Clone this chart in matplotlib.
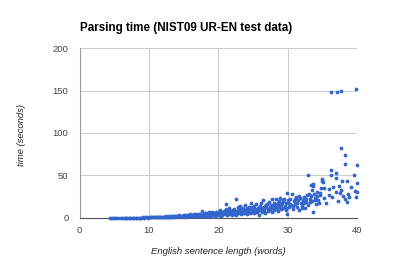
import matplotlib
matplotlib.use("Agg")
import matplotlib.pyplot as plt

title = "Parsing time (NIST09 UR-EN test data)"
x_label = "English sentence length (words)"
y_label = "time (seconds)"
x_ticks = [0, 10, 20, 30, 40]
y_ticks = [0, 50, 100, 150, 200]

# sentence length (words)
length = [
    4.4,4.7,5.0,5.3,5.6,6.0,6.2,6.5,6.7,6.9,7.1,7.3,7.5,7.7,7.9,8.1,8.3,8.5,8.7,8.9,9.1,9.3,9.5,9.7,9.9,10.1,10.3,10.5,10.7,10.9,
    11.0,11.2,11.3,11.5,11.6,11.8,12.0,12.1,12.3,12.4,12.6,12.8,12.9,13.1,13.2,13.4,13.5,13.7,13.8,14.0,14.1,14.3,14.4,14.6,14.7,14.9,15.0,15.1,15.3,15.4,15.6,15.7,15.8,16.0,16.1,16.2,16.4,16.5,16.6,16.8,16.9,
    12.2,13.0,13.6,14.2,14.8,15.2,15.5,15.9,16.3,16.7,16.95,
    17.0,17.1,17.2,17.3,17.4,17.5,17.6,17.7,17.8,17.9,18.0,18.1,18.2,18.3,18.4,18.5,18.6,18.7,18.8,18.9,19.0,19.1,19.2,19.3,19.4,19.5,19.6,19.7,19.8,19.9,20.0,20.1,20.2,20.3,20.4,20.5,20.6,20.7,20.8,20.9,21.1,21.0,21.2,21.3,22.6,21.5,21.6,21.7,21.8,21.9,
    17.15,17.55,17.95,18.35,18.75,19.15,19.55,19.95,20.35,20.75,21.15,21.55,21.95,
    22.0,22.1,22.2,22.3,22.4,22.5,21.4,22.7,22.8,22.9,23.0,23.1,23.2,23.3,23.4,23.5,23.6,23.7,23.8,23.9,24.0,24.1,24.2,24.3,24.4,24.5,24.6,24.7,24.8,24.9,25.0,25.1,25.2,25.3,25.4,25.5,25.6,25.7,25.8,25.9,26.0,26.1,26.2,26.3,26.4,26.5,26.6,26.7,26.8,26.9,27.0,27.1,27.2,27.3,27.4,27.5,27.6,27.7,27.8,27.9,28.0,28.1,28.2,28.3,28.4,28.5,28.6,28.7,28.8,28.9,29.0,29.1,29.2,29.3,29.4,29.5,29.6,29.7,29.8,29.9,
    22.15,22.55,22.95,23.35,23.75,24.15,24.55,24.95,25.35,25.75,26.15,26.55,26.95,27.35,27.75,28.15,28.55,28.95,29.35,29.75,29.95,
    30.0,30.2,30.3,30.5,30.6,30.8,30.9,31.0,31.2,31.3,31.5,31.6,31.8,31.9,32.0,32.2,32.3,32.5,32.6,32.8,32.9,33.0,33.2,33.2,33.3,33.4,33.5,33.5,33.6,33.7,33.8,34.0,34.1,34.3,34.4,34.5,34.6,34.8,34.9,
    30.1,30.4,30.7,31.1,31.4,31.7,32.1,32.4,32.7,33.1,33.6,33.9,34.2,34.7,
    35.0,35.1,35.2,35.3,35.6,35.9,36.0,36.2,36.2,36.4,36.5,36.9,36.9,37.0,37.2,37.4,37.5,37.7,37.7,37.8,38.0,38.2,38.3,38.3,38.5,38.6,38.7,38.9,39.2,39.5,39.7,39.8,40.0,40.0,40.0,
    36.2,37.1,37.7,39.8,
]

# parsing time (seconds)
seconds = [
    0.1,0.1,0.1,0.1,0.2,0.1,0.2,0.2,0.1,0.2,0.2,0.3,0.2,0.3,0.2,0.3,0.4,0.3,0.4,0.3,0.5,0.4,0.5,0.6,0.4,0.6,0.7,0.5,0.8,0.6,
    0.8,1.0,0.6,1.2,0.9,1.4,1.0,1.6,1.1,2.0,1.3,1.5,2.2,1.2,1.8,2.5,1.4,2.0,2.8,1.6,2.3,1.9,3.0,2.1,1.5,2.6,3.2,1.8,2.4,3.5,2.0,2.9,1.7,3.8,2.5,3.1,2.2,4.0,2.8,3.4,2.0,
    0.9,1.6,1.1,2.6,2.0,1.4,2.6,4.5,1.8,5.0,3.6,
    2.5,4.0,1.8,3.2,5.0,2.8,8.6,3.6,2.2,4.5,3.0,5.5,2.5,6.0,3.8,2.0,4.8,6.5,3.2,5.2,2.8,7.0,4.2,3.5,6.2,2.5,5.0,7.5,3.8,4.5,6.8,3.0,9.0,5.5,4.0,7.2,3.5,6.0,8.5,4.8,16.5,5.5,7.0,3.8,22.0,9.5,4.5,6.5,8.0,5.0,
    3.0,2.0,3.5,4.6,2.6,5.8,3.8,5.2,2.0,5.5,10.5,12.0,3.2,
    6.0,9.5,4.5,11.0,7.5,3.8,8.0,8.0,12.5,5.5,9.0,6.5,14.0,4.2,10.5,7.8,12.0,5.8,9.2,15.5,7.0,11.5,4.8,8.5,13.0,6.2,10.0,17.5,7.5,12.5,9.0,5.5,14.5,11.0,8.0,16.0,6.8,12.0,9.5,3.5,13.5,10.5,18.0,7.5,11.8,20.5,9.0,14.0,6.0,12.5,16.5,10.0,8.2,19.0,13.0,11.0,15.0,7.5,22.5,12.0,17.0,9.5,14.5,22.0,11.5,16.0,8.5,19.5,13.0,24.0,10.5,15.5,18.0,12.0,21.0,22.0,14.0,17.5,9.0,29.0,
    8.0,5.0,10.5,7.0,6.0,9.5,12.0,8.5,6.8,10.8,8.8,12.8,15.2,9.2,13.5,11.0,17.8,15.0,20.0,11.5,4.7,
    18.0,12.5,22.0,15.0,28.0,10.5,19.5,16.5,25.0,13.0,20.5,9.0,23.5,17.0,14.5,21.0,25.0,12.0,19.0,27.0,15.5,50.0,22.5,18.5,26.0,39.0,32.5,20.0,37.0,7.0,28.0,24.0,16.5,30.0,21.5,18.0,27.5,35.0,44.0,
    21.0,16.0,13.5,22.5,18.0,26.0,11.5,17.5,22.0,28.5,40.0,20.5,25.5,29.0,
    46.0,42.0,23.0,35.0,18.0,34.0,27.0,56.0,51.0,25.0,36.0,53.0,47.0,30.0,20.0,37.0,29.0,82.0,33.0,43.0,26.0,74.0,63.5,22.0,19.0,44.0,28.0,24.5,36.0,50.0,32.0,25.0,62.5,41.0,31.0,
    148.0,148.6,149.8,151.4,
]

fig = plt.figure(figsize=(4.0, 2.7), dpi=100)
ax = fig.add_axes([0.199, 0.193, 0.6935, 0.629])

ax.scatter(length, seconds, s=7.5, color="#3366cc", linewidths=0, zorder=3, clip_on=False)

ax.set_xlim(0, 40)
ax.set_ylim(0, 200)
ax.set_xticks(x_ticks)
ax.set_yticks(y_ticks)
ax.grid(True, color="#cccccc", linewidth=0.75, zorder=0)
for s in ["top", "right"]:
    ax.spines[s].set_visible(False)
ax.spines["left"].set_color("#999999")
ax.spines["left"].set_linewidth(0.8)
ax.spines["bottom"].set_color("#555555")
ax.spines["bottom"].set_linewidth(0.8)
ax.tick_params(axis="both", length=0, labelsize=6.8, colors="#444444")
ax.tick_params(axis="y", pad=8)
ax.tick_params(axis="x", pad=6)
for lab in ax.get_xticklabels() + ax.get_yticklabels():
    lab.set_fontfamily("Liberation Sans")

fig.text(0.2, 0.898, title, fontsize=8.4, fontweight="bold", family="Liberation Sans",
         ha="left", va="center", color="#000000")
fig.text(0.545, 0.067, x_label, fontsize=6.8, style="italic", family="Liberation Sans",
         ha="center", va="center", color="#222222")
fig.text(0.055, 0.5, y_label, fontsize=6.8, style="italic", family="Liberation Sans",
         ha="center", va="center", rotation=90, color="#222222")

fig.savefig("out.png", dpi=100)
